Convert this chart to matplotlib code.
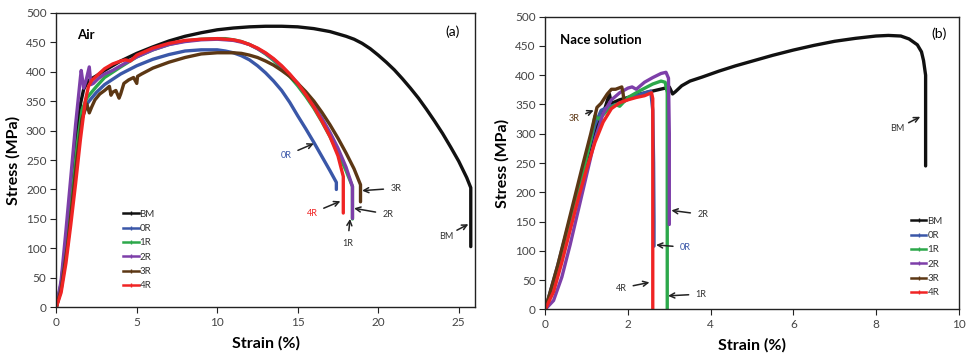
import matplotlib
matplotlib.use("Agg")
import matplotlib.pyplot as plt
from matplotlib.lines import Line2D

plt.rcParams['font.family'] = ['Lato', 'DejaVu Sans']

labels = ["BM", "0R", "1R", "2R", "3R", "4R"]
colors = {"BM": "#111111", "0R": "#3a57a8", "1R": "#2ca84a",
          "2R": "#7d3fa9", "3R": "#5c3714", "4R": "#f02424"}

# ---- tensile curves in air ----
air_strain = {
    "BM": [0, 0.3, 0.6, 0.9, 1.2, 1.5, 1.7, 2.0, 2.5, 3, 4, 5, 6, 7, 8, 9, 10, 11, 12, 13, 14, 15, 16, 17, 18,
           18.5, 19, 19.5, 20, 20.5, 21, 21.5, 22, 22.5, 23, 23.5, 24, 24.5, 25, 25.5, 25.75, 25.75],
    "0R": [0, 0.3, 0.7, 1.0, 1.3, 1.6, 1.9, 2.1, 2.5, 3, 4, 5, 6, 7, 8, 9, 10, 10.5, 11, 11.5, 12, 12.5, 13,
           13.5, 14, 14.5, 15, 15.5, 16, 16.5, 17, 17.4, 17.4],
    "1R": [0, 0.3, 0.7, 1.0, 1.3, 1.6, 1.9, 2.1, 2.5, 3, 4, 5, 6, 7, 8, 9, 10, 10.5, 11, 11.5, 12, 12.5, 13,
           13.5, 14, 14.5, 15, 15.5, 16, 16.5, 17, 17.5, 18, 18.4, 18.4],
    "2R": [0, 0.3, 0.6, 0.9, 1.2, 1.5, 1.55, 1.7, 1.85, 2.05, 2.15, 2.3, 2.6, 3, 3.5, 4, 5, 6, 7, 8, 9, 10, 11,
           11.5, 12, 12.5, 13, 13.5, 14, 14.5, 15, 15.5, 16, 16.5, 17, 17.5, 18, 18.4, 18.4],
    "3R": [0, 0.3, 0.7, 1.0, 1.3, 1.6, 1.9, 2.05, 2.2, 2.4, 2.7, 3.0, 3.3, 3.4, 3.5, 3.7, 3.9, 4.0, 4.2, 4.5,
           4.8, 5.0, 5.05, 5.3, 6, 7, 8, 9, 10, 11, 11.5, 12, 12.5, 13, 13.5, 14, 14.5, 15, 15.5, 16, 16.5, 17,
           17.5, 18, 18.5, 18.9, 18.9],
    "4R": [0, 0.3, 0.6, 0.9, 1.2, 1.5, 1.8, 2.0, 2.2, 2.6, 3, 3.5, 4, 4.3, 4.6, 5, 6, 7, 8, 9, 10, 11, 11.5, 12,
           12.5, 13, 13.5, 14, 14.5, 15, 15.5, 16, 16.5, 17, 17.5, 17.83, 17.83],
}
air_stress = {
    "BM": [0, 40, 110, 190, 270, 345, 370, 385, 393, 402, 418, 431, 442, 452, 460, 466, 471, 474, 476, 477, 477,
           476, 473, 468, 460, 455, 448, 439, 428, 416, 403, 388, 372, 355, 336, 316, 295, 272, 248, 220, 203,
           103],
    "0R": [0, 35, 110, 185, 260, 320, 345, 352, 365, 378, 396, 410, 421, 429, 435, 437, 437, 435, 432, 427, 420,
           410, 398, 384, 368, 348, 325, 303, 280, 256, 232, 212, 200],
    "1R": [0, 35, 115, 195, 275, 335, 355, 362, 375, 390, 408, 425, 437, 446, 452, 455, 456, 456, 454, 451, 446,
           439, 430, 419, 406, 392, 376, 358, 338, 315, 290, 262, 232, 205, 150],
    "2R": [0, 45, 130, 220, 310, 390, 402, 372, 385, 408, 378, 380, 388, 396, 402, 410, 425, 437, 446, 451, 454,
           455, 453, 450, 446, 439, 431, 421, 409, 395, 380, 362, 343, 321, 297, 270, 238, 205, 151],
    "3R": [0, 30, 105, 180, 255, 320, 345, 330, 340, 352, 362, 368, 375, 360, 365, 368, 355, 362, 380, 386, 390,
           380, 392, 396, 406, 416, 424, 430, 432, 432, 431, 428, 424, 418, 411, 402, 392, 380, 366, 350, 331,
           310, 287, 262, 235, 208, 179],
    "4R": [0, 25, 75, 140, 210, 285, 350, 375, 385, 395, 405, 413, 418, 420, 418, 428, 440, 448, 453, 455, 456,
           454, 451, 446, 440, 432, 422, 410, 396, 380, 361, 340, 316, 290, 257, 222, 160],
}

# ---- tensile curves in NACE solution ----
nace_strain = {
    "BM": [0, 0.3, 0.6, 0.9, 1.2, 1.45, 1.55, 1.6, 1.8, 2.0, 2.3, 2.6, 2.9, 3.0, 3.08, 3.15, 3.3, 3.5, 3.8, 4.2,
           4.6, 5.0, 5.5, 6.0, 6.5, 7.0, 7.5, 8.0, 8.3, 8.6, 8.8, 9.0, 9.1, 9.15, 9.2, 9.2],
    "0R": [0, 0.3, 0.6, 0.9, 1.2, 1.35, 1.5, 1.8, 2.1, 2.4, 2.55, 2.6, 2.62, 2.63, 2.63],
    "1R": [0, 0.3, 0.6, 0.9, 1.1, 1.2, 1.3, 1.5, 1.7, 1.8, 2.0, 2.3, 2.6, 2.8, 2.9, 2.95, 2.95],
    "2R": [0, 0.2, 0.4, 0.6, 0.8, 1.0, 1.2, 1.4, 1.6, 1.8, 2.0, 2.1, 2.2, 2.4, 2.6, 2.8, 2.92, 2.98, 3.0, 3.0],
    "3R": [0, 0.3, 0.6, 0.9, 1.1, 1.25, 1.35, 1.5, 1.6, 1.7, 1.85, 1.88, 1.9],
    "4R": [0, 0.2, 0.4, 0.6, 0.8, 1.0, 1.2, 1.4, 1.6, 1.8, 2.0, 2.2, 2.4, 2.5, 2.57, 2.6, 2.6],
}
nace_stress = {
    "BM": [0, 70, 150, 230, 305, 345, 368, 352, 358, 362, 368, 373, 378, 380, 368, 372, 382, 390, 397, 407, 416,
           424, 434, 443, 451, 458, 463, 467, 468, 467, 462, 452, 440, 425, 400, 245],
    "0R": [0, 75, 155, 235, 315, 340, 345, 352, 362, 370, 373, 340, 250, 150, 108],
    "1R": [0, 65, 145, 230, 290, 330, 325, 340, 350, 347, 362, 374, 385, 390, 388, 370, 0],
    "2R": [0, 15, 55, 110, 170, 230, 290, 335, 358, 370, 378, 380, 376, 388, 396, 403, 405, 395, 300, 145],
    "3R": [0, 75, 160, 245, 300, 345, 352, 368, 376, 376, 380, 370, 358],
    "4R": [0, 30, 80, 135, 190, 240, 285, 320, 343, 353, 358, 362, 365, 368, 370, 360, 0],
}

# annotation labels: (text, text xy, arrow tip xy, colour)
air_notes = [
    ("0R", (14.3, 258), (16.0, 278), colors["0R"]),
    ("4R", (15.9, 160), (17.65, 180), colors["4R"]),
    ("3R", (21.1, 202), (19.0, 198), "#333333"),
    ("2R", (20.6, 158), (18.5, 168), "#333333"),
    ("1R", (18.1, 109), (18.25, 150), "#333333"),
    ("BM", (24.2, 121), (25.6, 141), "#333333"),
]
nace_notes = [
    ("3R", (0.70, 326), (1.17, 340), "#5c3714"),
    ("BM", (8.52, 309), (9.07, 329), "#333333"),
    ("2R", (3.81, 162), (3.05, 169), "#333333"),
    ("0R", (3.39, 106), (2.68, 110), colors["0R"]),
    ("4R", (1.83, 36), (2.52, 46), "#333333"),
    ("1R", (3.77, 26), (2.97, 23), "#333333"),
]

fig = plt.figure(figsize=(9.67, 3.57), dpi=100)
ax1 = fig.add_axes([0.0582, 0.1392, 0.4328, 0.8252])
ax2 = fig.add_axes([0.5639, 0.1336, 0.4275, 0.8196])


def style(ax, xmax, xticks):
    ax.set_xlim(0, xmax)
    ax.set_ylim(0, 500)
    ax.set_xticks(xticks)
    ax.set_yticks(range(0, 501, 50))
    for s in ax.spines.values():
        s.set_linewidth(1.0)
        s.set_color("#222222")
    ax.tick_params(axis="both", direction="out", length=4, width=0.8, labelsize=8.5,
                   labelcolor="#444444", color="#222222", pad=3)
    ax.set_ylabel("Stress (MPa)", fontsize=11.5, fontweight="bold", labelpad=4)
    ax.set_xlabel("Strain (%)", fontsize=11.5, fontweight="bold", labelpad=6)


def draw(ax, strain, stress, notes):
    for k in labels:
        ax.plot(strain[k], stress[k], color=colors[k], lw=2.4, solid_joinstyle="round",
                solid_capstyle="round")
    for txt, xy_t, xy_a, c in notes:
        ax.annotate("", xy=xy_a, xytext=xy_t,
                    arrowprops=dict(arrowstyle="->", color="#222222", lw=1.1,
                                    shrinkA=9, shrinkB=0, mutation_scale=9))
        ax.text(xy_t[0], xy_t[1], txt, color=c, fontsize=6.5, ha="center", va="center")


def legend(ax, anchor):
    handles = [Line2D([], [], color=colors[k], lw=1.8, marker="|", markersize=3) for k in labels]
    ax.legend(handles, labels, loc="upper left", bbox_to_anchor=anchor, frameon=False,
              fontsize=7, labelcolor="#333333", handlelength=1.6, handletextpad=0.1,
              labelspacing=0.55, borderaxespad=0)


style(ax1, 26, range(0, 26, 5))
draw(ax1, air_strain, air_stress, air_notes)
ax1.text(1.3, 463, "Air", fontsize=9.5, fontweight="bold", va="center")
ax1.text(24.6, 468, "(a)", fontsize=10, va="center", ha="center")
legend(ax1, (0.15, 0.345))

style(ax2, 10, range(0, 11, 2))
draw(ax2, nace_strain, nace_stress, nace_notes)
ax2.text(0.35, 460, "Nace solution", fontsize=9.5, fontweight="bold", va="center")
ax2.text(9.52, 471, "(b)", fontsize=10, va="center", ha="center")
legend(ax2, (0.875, 0.33))

fig.savefig("out.png", dpi=100)
